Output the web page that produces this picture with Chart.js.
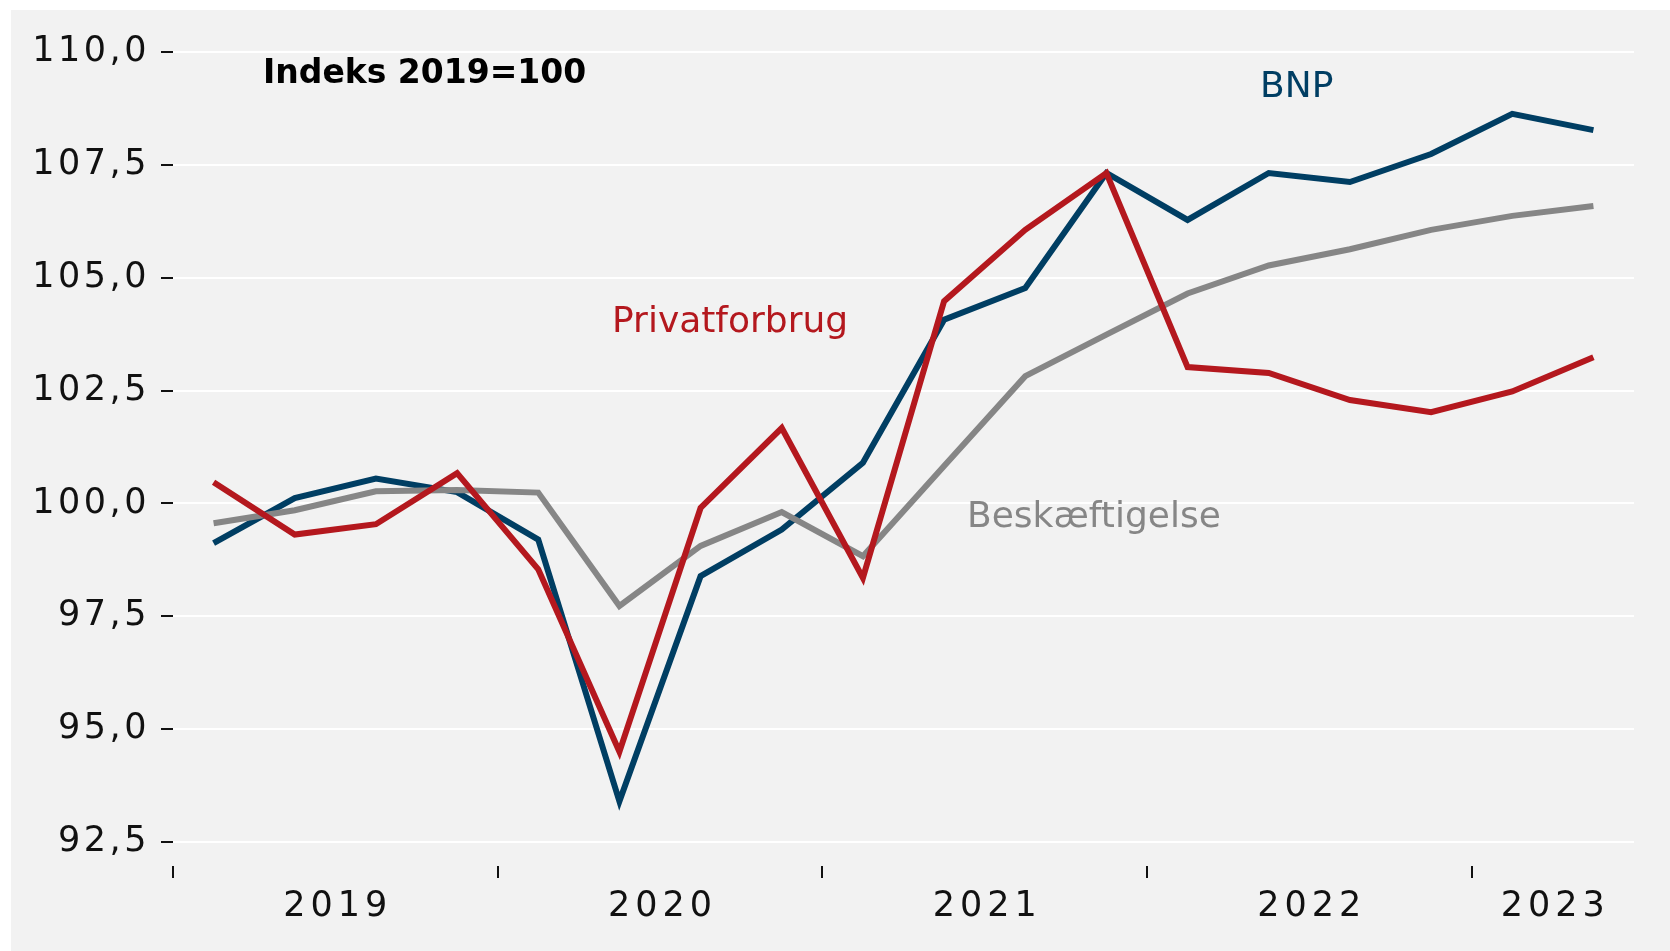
<!DOCTYPE html>
<html><head><meta charset="utf-8">
<script src="https://cdn.jsdelivr.net/npm/chart.js@4/dist/chart.umd.min.js"></script>
<style>html,body{margin:0;padding:0;background:#fff;} canvas{display:block;}</style>
</head><body>
<canvas id="c" width="1670" height="951"></canvas>
<script>
const quarters = ['2019K1','2019K2','2019K3','2019K4','2020K1','2020K2','2020K3','2020K4',
  '2021K1','2021K2','2021K3','2021K4','2022K1','2022K2','2022K3','2022K4','2023K1','2023K2'];
const years = ['2019','2020','2021','2022','2023'];
const bnp = [99.12, 100.12, 100.55, 100.25, 99.2, 93.4, 98.39, 99.42, 100.9, 104.07, 104.77, 107.32, 106.28, 107.32, 107.12, 107.74, 108.63, 108.27];
const privatforbrug = [100.47, 99.31, 99.54, 100.67, 98.54, 94.5, 99.9, 101.67, 98.35, 104.48, 106.06, 107.32, 103.02, 102.89, 102.29, 102.02, 102.48, 103.24];
const beskaeftigelse = [99.56, 99.85, 100.27, 100.3, 100.24, 97.73, 99.06, 99.81, 98.83, 100.83, 102.82, 103.74, 104.65, 105.27, 105.63, 106.06, 106.37, 106.59];
const yMin = 92.5, yMax = 110, yStep = 2.5;

const BLUE = '#003e63', RED = '#b4181e', GRAY = '#868686';
const FONT = "'DejaVu Sans'";

const bgPlugin = {
  id: 'bg',
  beforeDraw(chart) {
    const c = chart.ctx;
    c.save();
    c.fillStyle = '#ffffff';
    c.fillRect(0, 0, chart.width, chart.height);
    c.fillStyle = '#f2f2f2';
    c.fillRect(11, 10, chart.width - 11, chart.height - 10);
    c.restore();
    c.letterSpacing = '3.5px';
  }
};

const decoPlugin = {
  id: 'deco',
  afterDraw(chart) {
    const c = chart.ctx, xs = chart.scales.x, area = chart.chartArea;
    const step = xs.getPixelForValue(1) - xs.getPixelForValue(0);
    c.save();
    c.strokeStyle = '#111';
    c.lineWidth = 2;
    c.fillStyle = '#111';
    c.font = '35px ' + FONT;
    c.letterSpacing = '5px';
    c.textAlign = 'center';
    c.textBaseline = 'alphabetic';
    years.forEach(y => {
      const idx = quarters.map((q, i) => q.startsWith(y) ? i : -1).filter(i => i >= 0);
      const first = idx[0], last = idx[idx.length - 1];
      const bx = Math.round(xs.getPixelForValue(first) - step / 2);
      c.beginPath();
      c.moveTo(bx, area.bottom + 24);
      c.lineTo(bx, area.bottom + 36);
      c.stroke();
      const cx = (xs.getPixelForValue(first) + xs.getPixelForValue(last)) / 2;
      c.fillText(y, cx + 2.5, area.bottom + 74);
    });
    c.letterSpacing = '0px';
    c.textAlign = 'left';
    c.font = 'bold 33px ' + FONT;
    c.fillStyle = '#000';
    c.fillText('Indeks 2019=100', 263, 83);
    c.font = '36px ' + FONT;
    c.fillStyle = BLUE;
    c.fillText('BNP', 1260, 97);
    c.fillStyle = RED;
    c.fillText('Privatforbrug', 612, 332);
    c.fillStyle = GRAY;
    c.fillText('Beskæftigelse', 967, 527);
    c.restore();
  }
};

const ds = (label, data, color) => ({
  label, data, borderColor: color, backgroundColor: color, borderWidth: 6,
  pointRadius: 0, pointHoverRadius: 0, tension: 0, fill: false,
  borderJoinStyle: 'miter', borderCapStyle: 'butt'
});

new Chart(document.getElementById('c'), {
  type: 'line',
  data: {
    labels: quarters,
    datasets: [
      ds('Privatforbrug', privatforbrug, RED),
      ds('Beskæftigelse', beskaeftigelse, GRAY),
      ds('BNP', bnp, BLUE)
    ]
  },
  options: {
    responsive: false,
    animation: false,
    devicePixelRatio: 1,
    layout: { padding: { left: 0, top: 52, right: 36, bottom: 101 } },
    plugins: { legend: { display: false }, tooltip: { enabled: false } },
    scales: {
      x: {
        type: 'category',
        offset: true,
        grid: { display: false },
        border: { display: false },
        ticks: { display: false }
      },
      y: {
        min: yMin, max: yMax,
        afterFit(scale) { scale.width = 173; },
        ticks: {
          stepSize: yStep,
          padding: 11,
          color: '#111',
          font: { family: 'DejaVu Sans', size: 35 },
          callback: v => Number(v).toFixed(1).replace('.', ',')
        },
        grid: { color: '#ffffff', lineWidth: 2, tickColor: '#111', tickLength: 12, tickWidth: 2 },
        border: { display: false }
      }
    }
  },
  plugins: [bgPlugin, decoPlugin]
});
</script>
</body></html>
